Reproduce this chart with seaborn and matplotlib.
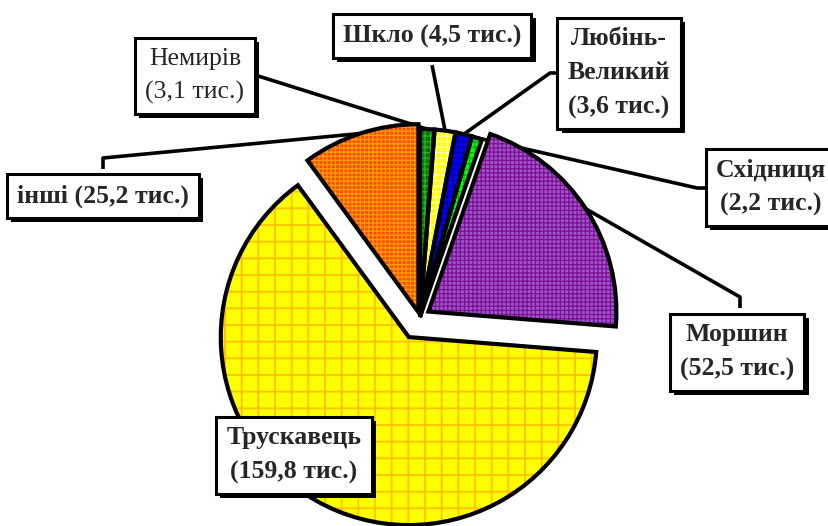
import numpy as np
import matplotlib
matplotlib.use("Agg")
import matplotlib.pyplot as plt
import matplotlib.patheffects as pe
import seaborn as sns

# resorts and number of visitors (thousands)
resorts = ["Немирів", "Шкло", "Любінь-\nВеликий", "Східниця", "Моршин", "Трускавець", "інші"]
visitors = [3.1, 4.5, 3.6, 2.2, 52.5, 159.8, 25.2]
value_text = ["3,1", "4,5", "3,6", "2,2", "52,5", "159,8", "25,2"]

fill_colors = ["#007A00", "#FFFF00", "#0000FF", "#00FF00", "#9A55D0", "#FFFF00", "#FF4A00"]
hatch_colors = ["#2FB02F", "#FFFFB0", "#000099", "#00B000", "#80108C", "#FFC000", "#FFA000"]
hatches = ["+++", "+++", "+++", "+++", "++++", "+", "++++"]

sns.set_theme(style="white")
plt.rcParams["font.family"] = ["Liberation Serif", "DejaVu Serif"]

W, H = 829, 526
fig = plt.figure(figsize=(W / 100, H / 100), dpi=100)
ax = fig.add_axes([0, 0, 1, 1])

center = (420, H - 317)
radius = 188
explode = [0, 0, 0, 0, 10, 23, 5]

# filled, hatched wedges
wedges, _ = ax.pie(visitors, colors=fill_colors, startangle=90, counterclock=False,
                   center=center, radius=radius, explode=explode,
                   wedgeprops=dict(linewidth=0))
for w, hc, h in zip(wedges, hatch_colors, hatches):
    w.set_hatch(h)
    w.set_edgecolor(hc)
    w.set_linewidth(0)
    if hasattr(w, "set_hatch_linewidth"):
        w.set_hatch_linewidth(1.3 if h == "+" else 0.9)
    w.set_zorder(2)

# black outlines on top
outl, _ = ax.pie(visitors, startangle=90, counterclock=False, center=center,
                 radius=radius, explode=explode,
                 wedgeprops=dict(fill=False, edgecolor="black", linewidth=3))
for w in outl:
    w.set_zorder(3)

# label boxes: text centre (pixels from top-left), bold, anchor path to wedge
label_pos = [(195, 76), (432, 36), (619, 73), (771, 187), (737, 352), (294, 455), (103, 196)]
bold = [False, True, True, True, True, True, True]
anchors = [
    [(255, 75)],
    [(432, 65)],
    [(562, 73), (550, 73)],
    [(709, 188), (697, 188)],
    [(740, 308), (740, 297)],
    None,
    [(103, 169), (103, 158)],
]

for w, name, val, (tx, ty), b, anc in zip(wedges, resorts, value_text, label_pos, bold, anchors):
    if anc is not None:
        th = np.deg2rad((w.theta1 + w.theta2) / 2)
        ex = w.center[0] + w.r * np.cos(th)
        ey = w.center[1] + w.r * np.sin(th)
        xs = [a[0] for a in anc] + [ex]
        ys = [H - a[1] for a in anc] + [ey]
        ax.plot(xs, ys, color="black", lw=2.6, zorder=1, solid_capstyle="butt")
    if name in ("Шкло", "інші"):
        txt = f"{name} ({val} тис.)"
    else:
        txt = f"{name}\n({val} тис.)"
    t = ax.text(tx, H - ty, txt, ha="center", va="center", fontsize=18.5,
                fontweight="bold" if b else "normal", linespacing=1.6, zorder=5,
                bbox=dict(boxstyle="square,pad=0.4", fc="white", ec="black", lw=2.2))
    t.get_bbox_patch().set_path_effects([
        pe.SimplePatchShadow(offset=(3, -3), shadow_rgbFace="black", alpha=1.0),
        pe.Normal()])

ax.set_xlim(0, W)
ax.set_ylim(0, H)
ax.set_aspect("equal")
ax.axis("off")

fig.savefig("out.png", dpi=100, facecolor="white")
